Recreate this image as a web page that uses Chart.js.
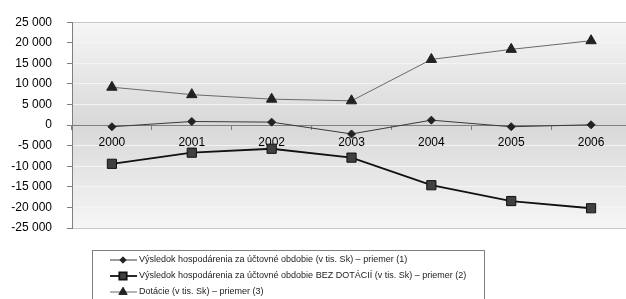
<!DOCTYPE html>
<html>
<head>
<meta charset="utf-8">
<script src="https://cdn.jsdelivr.net/npm/chart.js@4/dist/chart.umd.min.js"></script>
<style>
  html, body { margin: 0; padding: 0; background: #fff; overflow: hidden; }
  #wrap { width: 626px; height: 299px; overflow: hidden; }
</style>
</head>
<body>
<div id="wrap"><canvas id="chart" width="640" height="299"></canvas></div>
<script>
const years = ['2000', '2001', '2002', '2003', '2004', '2005', '2006'];
const vysledok = [-400, 880, 720, -2150, 1200, -400, 80];
const bezDotacii = [-9400, -6700, -5750, -7900, -14600, -18450, -20200];
const dotacie = [9200, 7400, 6300, 5900, 15950, 18400, 20500];

const seriesLabels = [
  'Výsledok hospodárenia za účtovné obdobie (v tis. Sk) – priemer (1)',
  'Výsledok hospodárenia za účtovné obdobie BEZ DOTÁCIÍ (v tis. Sk) – priemer (2)',
  'Dotácie (v tis. Sk) – priemer (3)'
];

const FONT = '"Liberation Sans", Arial, sans-serif';

function fmt(v) {
  const s = String(Math.abs(v)).replace(/\B(?=(\d{3})+(?!\d))/g, ' ');
  return (v < 0 ? '-' : '') + s;
}

// gray gradient behind the plot
const plotBg = {
  id: 'plotBg',
  beforeDraw(chart) {
    const { ctx, chartArea: a } = chart;
    const g = ctx.createLinearGradient(0, a.top, 0, a.bottom);
    g.addColorStop(0, '#f6f6f6');
    g.addColorStop(0.5, '#d8d8d8');
    g.addColorStop(1, '#f6f6f6');
    ctx.save();
    ctx.fillStyle = g;
    ctx.fillRect(a.left, a.top, a.right - a.left, a.bottom - a.top);
    ctx.restore();
  }
};

// boxed legend under the plot
const boxLegend = {
  id: 'boxLegend',
  afterDraw(chart) {
    const ctx = chart.ctx;
    const x0 = 92, y0 = 250, w = 392, rowH = 16;
    ctx.save();
    ctx.strokeStyle = '#7f7f7f';
    ctx.lineWidth = 1;
    ctx.strokeRect(x0 + 0.5, y0 + 0.5, w, 70);
    chart.data.datasets.forEach((ds, i) => {
      const y = y0 + 10 + i * rowH;
      ctx.strokeStyle = ds.borderColor;
      ctx.lineWidth = ds.borderWidth;
      ctx.beginPath();
      ctx.moveTo(110, y);
      ctx.lineTo(137, y);
      ctx.stroke();
      ctx.fillStyle = ds.pointBackgroundColor;
      ctx.strokeStyle = ds.pointBorderColor;
      Chart.helpers.drawPoint(ctx, {
        pointStyle: ds.pointStyle,
        radius: ds.pointRadius * 0.8,
        borderWidth: 1
      }, 123, y);
      ctx.fillStyle = '#222';
      ctx.font = '9px ' + FONT;
      ctx.textBaseline = 'middle';
      ctx.fillText(ds.label, 139, y);
    });
    ctx.restore();
  }
};

new Chart(document.getElementById('chart'), {
  type: 'line',
  data: {
    labels: years,
    datasets: [
      {
        label: seriesLabels[0],
        data: vysledok,
        borderColor: '#3a3a3a',
        borderWidth: 1,
        pointStyle: 'rectRot',
        pointRadius: 4,
        pointBackgroundColor: '#222',
        pointBorderColor: '#222',
        pointBorderWidth: 1
      },
      {
        label: seriesLabels[1],
        data: bezDotacii,
        borderColor: '#111',
        borderWidth: 1.8,
        pointStyle: 'rect',
        pointRadius: 6.5,
        pointBackgroundColor: '#404040',
        pointBorderColor: '#111',
        pointBorderWidth: 1
      },
      {
        label: seriesLabels[2],
        data: dotacie,
        borderColor: '#6a6a6a',
        borderWidth: 1,
        pointStyle: 'triangle',
        pointRadius: 6,
        pointBackgroundColor: '#222',
        pointBorderColor: '#222',
        pointBorderWidth: 1
      }
    ]
  },
  options: {
    responsive: false,
    animation: false,
    layout: { padding: { left: 0, top: 19, right: 9, bottom: 71 } },
    plugins: { legend: { display: false }, tooltip: { enabled: false } },
    scales: {
      x: {
        position: { y: 0 },
        offset: true,
        grid: {
          offset: true,
          drawOnChartArea: false,
          tickLength: 4,
          tickColor: '#7f7f7f'
        },
        border: { color: '#7f7f7f', width: 1 },
        ticks: {
          padding: 6,
          color: '#000',
          font: { family: FONT, size: 12 }
        }
      },
      y: {
        min: -25000,
        max: 25000,
        afterFit(scale) { scale.width = 72; },
        grid: {
          color: (c) => (c.tick && Math.abs(c.tick.value) === 25000) ? '#c8c8c8' : '#f4f4f4',
          tickLength: 5,
          tickColor: '#7f7f7f'
        },
        border: { color: '#7f7f7f', width: 1 },
        ticks: {
          stepSize: 5000,
          padding: 15,
          color: '#000',
          font: { family: FONT, size: 12 },
          callback: (v) => fmt(v)
        }
      }
    }
  },
  plugins: [plotBg, boxLegend]
});
</script>
</body>
</html>
